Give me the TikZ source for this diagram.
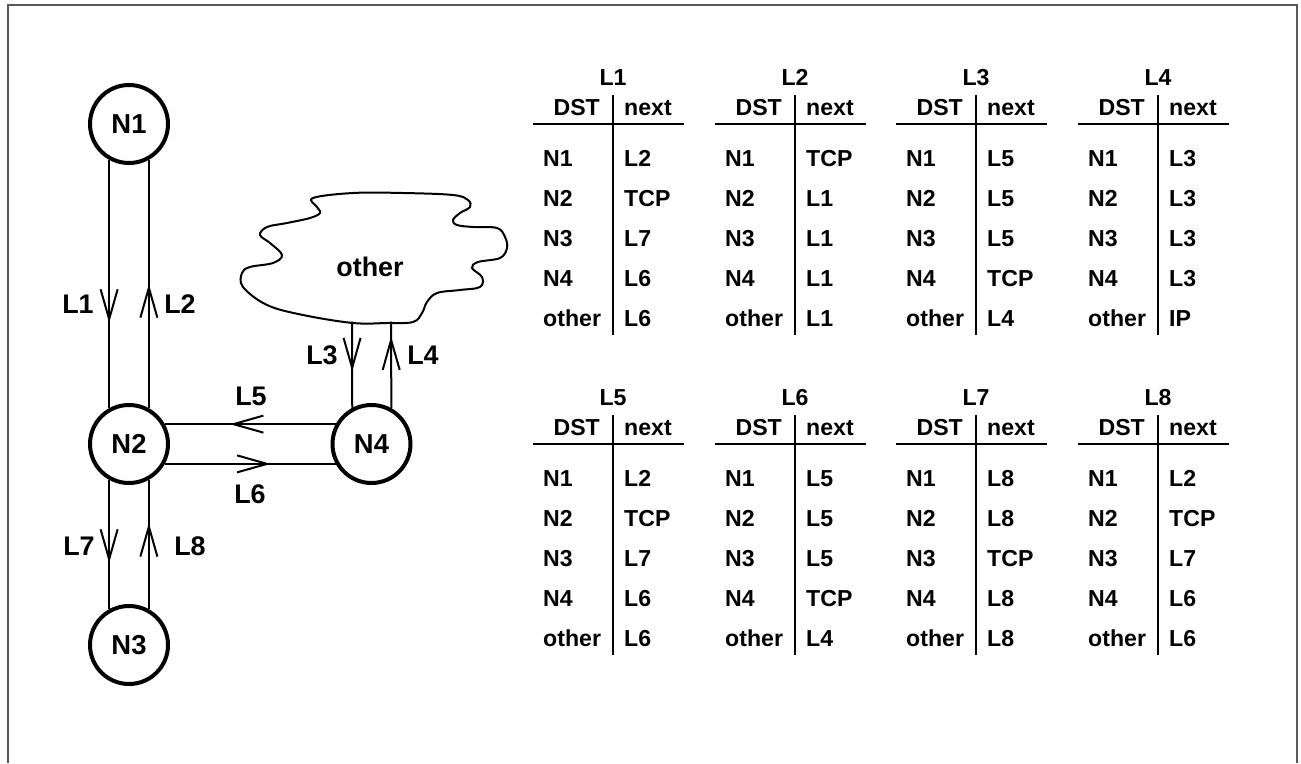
\documentclass[tikz,border=0pt]{standalone}
\usepackage{fontspec}
\setmainfont{Liberation Sans}
\usetikzlibrary{arrows.meta,decorations.markings}

\tikzset{
  nd/.style={circle, draw, line width=4bp, minimum size=78bp, inner sep=0pt,
    font=\fontsize{27.5}{32}\selectfont\bfseries},
  lbl/.style={inner sep=0pt, font=\fontsize{27}{32}\selectfont\bfseries},
  ttext/.style={inner sep=0pt, font=\fontsize{23.2}{28}\selectfont\bfseries},
  link/.style={line width=2bp},
  rule/.style={line width=2bp},
  frame/.style={line width=1.3bp, black!65},
  flow/.style={postaction={decorate, decoration={markings,
    mark=at position #1 with {\arrow{Straight Barb[length=30bp,width=17bp]}}}}},
}

% one forwarding table: #1 name, #2 x of the column rule, #3 title baseline, #4 title, #5 rows
\newcommand\routetab[5]{%
  \node[ttext, anchor=base] (#1-title) at (#2,#3) {#4};
  \node[ttext, anchor=base east] (#1-dst) at (#2-13,#3+30) {DST};
  \node[ttext, anchor=base west] (#1-next) at (#2+11,#3+30) {next};
  \draw[rule] (#2-80,#3+39) -- (#2+71,#3+39);
  \draw[rule] (#2,#3+10) -- (#2,#3+250);
  \foreach \dst/\nxt [count=\i from 0] in {#5} {
    \node[ttext, anchor=base west] (#1-d\i) at (#2-70,#3+81+40*\i) {\dst};
    \node[ttext, anchor=base west] (#1-n\i) at (#2+11,#3+81+40*\i) {\nxt};
  }%
}

\begin{document}
\begin{tikzpicture}[x=1bp, y=-1bp]
\useasboundingbox (0,0) rectangle (1301,763);

% outer frame (open at the bottom)
\draw[frame] (8,763) -- (8,5) -- (1297,5) -- (1297,763);

% network nodes
\node[nd] (N1) at (129,124) {N1};
\node[nd] (N2) at (129,444) {N2};
\node[nd] (N3) at (129,645) {N3};
\node[nd] (N4) at (371.5,444) {N4};

% the "other" network cloud
\draw[line width=2bp] plot[smooth cycle, tension=0.6] coordinates {
  (313,198) (353,193) (403,193) (453,195) (468,200) (470,207) (460,213)
  (453,220) (457,225) (473,227) (497,228) (505,237) (507,248) (500,258)
  (478,262) (472,268) (482,277) (480,287) (460,290) (437,293) (427,302)
  (422,313) (413,322) (387,323) (353,323) (303,315) (267,305) (243,287)
  (242,273) (250,267) (273,263) (282,255) (270,243) (260,235) (267,227)
  (287,223) (310,218) (320,213) (317,207)};
\node[lbl] (cloud) at (370,267) {other};
\coordinate (c3) at (352,321.5);
\coordinate (c4) at (391,321.5);

% links
\draw[link, flow=0.657] (N1.241) -- (N2.119);
\draw[link, flow=0.5]   (N2.61)  -- (N1.299);
\draw[link, flow=0.643] (N2.241) -- (N3.119);
\draw[link, flow=0.667] (N3.61)  -- (N2.299);
\draw[link, flow=0.62]  (N4.151) -- (N2.29);
\draw[link, flow=0.62]  (N2.331) -- (N4.209);
\draw[link, flow=0.58]  (c3) -- (N4.118);
\draw[link, flow=0.83]  (N4.61) -- (c4);

% link labels
\node[lbl] (lL1) at (78,304) {L1};
\node[lbl] (lL2) at (180,304) {L2};
\node[lbl] (lL3) at (322,355) {L3};
\node[lbl] (lL4) at (423,355) {L4};
\node[lbl] (lL5) at (251,396) {L5};
\node[lbl] (lL6) at (250,494) {L6};
\node[lbl] (lL7) at (79,546) {L7};
\node[lbl] (lL8) at (190,546) {L8};

% forwarding tables
\routetab{T1}{613}{85}{L1}{N1/L2, N2/TCP, N3/L7, N4/L6, other/L6}
\routetab{T2}{795}{85}{L2}{N1/TCP, N2/L1, N3/L1, N4/L1, other/L1}
\routetab{T3}{976}{85}{L3}{N1/L5, N2/L5, N3/L5, N4/TCP, other/L4}
\routetab{T4}{1158}{85}{L4}{N1/L3, N2/L3, N3/L3, N4/L3, other/IP}
\routetab{T5}{613}{405}{L5}{N1/L2, N2/TCP, N3/L7, N4/L6, other/L6}
\routetab{T6}{795}{405}{L6}{N1/L5, N2/L5, N3/L5, N4/TCP, other/L4}
\routetab{T7}{976}{405}{L7}{N1/L8, N2/L8, N3/TCP, N4/L8, other/L8}
\routetab{T8}{1158}{405}{L8}{N1/L2, N2/TCP, N3/L7, N4/L6, other/L6}
\end{tikzpicture}
\end{document}
